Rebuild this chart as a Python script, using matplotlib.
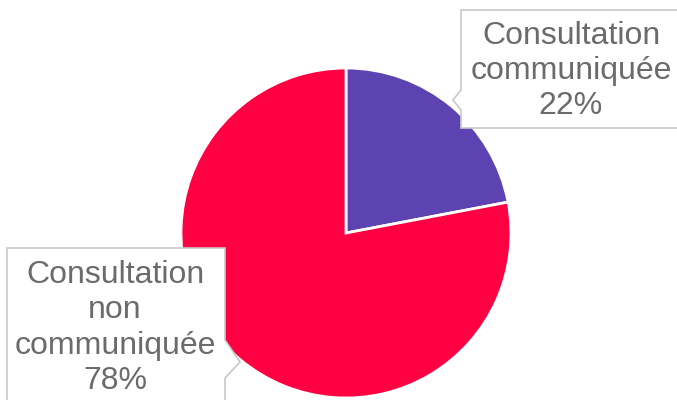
import matplotlib.pyplot as plt
from matplotlib.patches import Polygon

labels = ["Consultation\ncommuniquée", "Consultation\nnon\ncommuniquée"]
values = [22, 78]
colors = ["#5D43B1", "#FF0042"]

W, H = 677, 400

fig = plt.figure(figsize=(6.77, 4.0), dpi=100)
ax = fig.add_axes([0, 0, 1, 1])

ax.pie(values, colors=colors, startangle=90, counterclock=False,
       center=(346, H - 233), radius=165, frame=True,
       wedgeprops=dict(edgecolor="white", linewidth=2))
ax.set_xlim(0, W)
ax.set_ylim(0, H)
ax.set_aspect("equal")
ax.axis("off")


def callout(pts):
    poly = Polygon([(x, H - y) for x, y in pts], closed=True,
                   facecolor="white", edgecolor="#C8C8C8", linewidth=1.2, zorder=5)
    ax.add_patch(poly)


# top-right callout, pointer on the left edge
callout([(461, 10), (690, 10), (690, 128), (461, 128), (461, 110), (453, 100), (461, 90)])
# bottom-left callout, pointer on the right edge
callout([(7, 248), (225, 248), (225, 340), (240, 362), (225, 378), (225, 410), (7, 410)])

pcts = [f"{v}%" for v in values]
ax.text(571, H - 71, labels[0] + "\n" + pcts[0], ha="center", va="center",
        fontsize=23, color="#6B6B6B", family="Liberation Sans", linespacing=1.22, zorder=6)
ax.text(115, H - 328, labels[1] + "\n" + pcts[1], ha="center", va="center",
        fontsize=23, color="#6B6B6B", family="Liberation Sans", linespacing=1.22, zorder=6)

fig.savefig("out.png", dpi=100)
